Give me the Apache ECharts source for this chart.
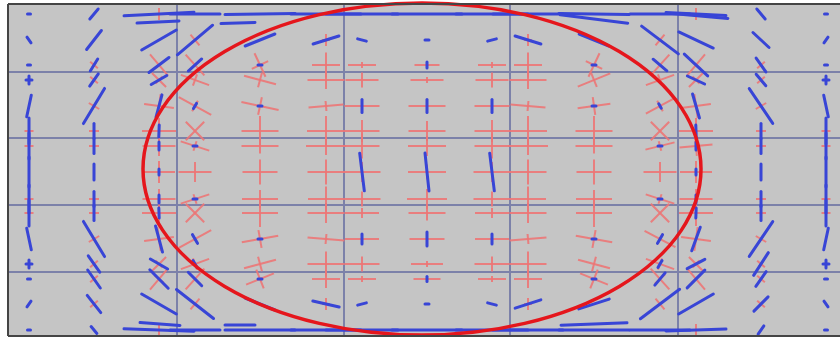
<!DOCTYPE html>
<html><head><meta charset="utf-8">
<script src="https://cdn.jsdelivr.net/npm/echarts@6/dist/echarts.min.js"></script>
<style>html,body{margin:0;padding:0;background:#fff}#chart{width:840px;height:338px}</style>
</head><body><div id="chart"></div>
<script>
// Node positions of the measurement mesh
const colX = [29, 94, 159, 195, 260, 326, 362, 427, 492, 528, 594, 660, 696, 761, 826];
const rowY = [14, 40, 65, 80, 106, 131, 146, 172, 199, 213, 239, 264, 279, 304, 330];
// Reference grid lines
const gridX = [177, 344, 510, 678];
const gridY = [72, 138, 205, 272];
// Ellipse: center and radii
const ellipseCenter = [422, 169];
const ellipseRadii = [279, 166];
// Blue strain segments: [col, row, length, angle]
const blueStrain = [
[0,0,3,0],[0,1,7,-55],[0,2,3,0],[0,3,8,90],[0,3,6,0],[0,4,22,78],[0,5,26,90],[0,6,26,90],[0,7,30,90],[0,8,28,90],[0,9,26,90],[0,10,22,-78],[0,11,8,90],[0,11,6,0],[0,12,3,0],[0,13,7,55],[0,14,3,0],
[1,0,13,50],[1,1,24,52],[1,2,14,58],[1,3,15,55],[1,4,41,59],[1,5,15,90],[1,6,15,90],[1,7,16,90],[1,8,15,90],[1,9,15,90],[1,10,41,-59],[1,11,20,-55],[1,12,22,-55],[1,13,22,-52],[1,14,9,-50],
[2,0,70,3],[2,1,40,30],[2,2,25,37],[2,3,18,30],[2,4,23,75],[2,5,12,88],[2,6,8,90],[2,7,6,90],[2,8,8,90],[2,9,10,-88],[2,10,27,-75],[2,11,20,-30],[2,12,26,-45],[2,13,40,-30],[2,14,70,-2],
[3,0,50,0],[3,1,46,40],[3,2,18,42],[3,4,6,60],[3,6,4,0],[3,8,4,0],[3,10,10,-60],[3,11,8,-60],[3,12,19,-45],[3,13,47,-38],[3,14,50,0],
[4,0,70,1],[4,1,32,22],[4,2,4,0],[4,4,4,0],[4,10,4,0],[4,12,4,0],[4,13,32,-22],[4,14,70,0],
[5,0,70,0],[5,1,27,17],[5,13,27,-13],[5,14,70,0],
[6,0,72,0],[6,1,9,-15],[6,4,13,90],[6,7,38,-83],[6,10,10,90],[6,13,9,15],[6,14,72,0],
[7,0,70,0],[7,1,4,0],[7,2,6,90],[7,4,13,90],[7,7,38,-84],[7,10,14,90],[7,12,5,90],[7,13,4,0],[7,14,70,0],
[8,0,72,0],[8,1,9,15],[8,4,13,90],[8,7,38,-83],[8,10,10,90],[8,13,9,-15],[8,14,72,0],
[9,0,70,0],[9,1,27,-17],[9,13,27,18],[9,14,70,0],
[10,0,70,-1],[10,1,32,-22],[10,2,4,0],[10,4,4,0],[10,10,4,0],[10,12,4,0],[10,13,32,18],[10,14,70,0],
[11,0,60,0],[11,1,46,-37],[11,2,18,-40],[11,4,5,-60],[11,6,4,0],[11,8,4,0],[11,10,10,60],[11,11,8,60],[11,12,16,50],[11,13,49,37],[11,14,60,0],
[12,0,60,-3],[12,1,38,-25],[12,2,32,-43],[12,3,19,-25],[12,4,25,-74],[12,5,12,-88],[12,6,8,90],[12,7,6,90],[12,8,8,90],[12,9,10,88],[12,10,25,70],[12,11,20,28],[12,12,25,45],[12,13,40,30],[12,14,60,2],
[13,0,13,-50],[13,1,22,-43],[13,2,17,-55],[13,3,15,-50],[13,4,42,-56],[13,5,15,90],[13,6,15,90],[13,7,16,90],[13,8,15,90],[13,9,15,90],[13,10,42,56],[13,11,27,57],[13,12,18,55],[13,13,20,45],[13,14,10,55],
[14,0,3,0],[14,1,7,55],[14,2,3,0],[14,3,8,90],[14,3,6,0],[14,4,22,-78],[14,5,26,90],[14,6,26,90],[14,7,30,90],[14,8,28,90],[14,9,26,90],[14,10,22,78],[14,11,8,90],[14,11,6,0],[14,12,3,0],[14,13,7,-55],[14,14,3,0]
];
// Extra boundary band segments: [x, y, length, angle]
const blueBand = [[158,22,42,3],[238,23,34,2],[594,19,68,-7],[700,16,56,-5],[160,324,40,-4],[240,325,30,0],[594,324,66,2]];
// Red strain crosses: [col, row, major, minor, angle]
const redStrain = [
[0,3,8,6,0],[0,5,9,0,0],[0,6,9,0,0],[0,8,9,0,0],[0,9,9,0,0],[0,11,8,6,0],
[1,2,10,6,-40],[1,3,10,6,-40],[1,4,12,8,-30],[1,5,10,0,0],[1,6,10,0,0],[1,8,10,0,0],[1,9,10,0,0],[1,10,12,8,30],[1,11,10,6,40],[1,12,10,6,40],[1,13,10,6,40],
[2,0,0,12,0],[2,2,28,12,-50],[2,3,20,10,-45],[2,4,30,24,-8],[2,5,34,26,0],[2,6,33,20,0],[2,7,32,22,0],[2,8,33,20,0],[2,9,34,26,0],[2,10,30,24,8],[2,11,20,10,45],[2,12,28,12,50],[2,14,0,12,0],
[3,1,14,8,-50],[3,2,28,14,-48],[3,3,30,12,-20],[3,4,37,12,-29],[3,5,26,26,45],[3,6,30,10,-18],[3,7,33,20,0],[3,8,30,10,18],[3,9,26,26,45],[3,10,37,12,29],[3,11,30,12,20],[3,12,28,14,48],[3,13,14,8,50],
[4,2,26,18,-65],[4,3,33,15,-15],[4,4,38,18,-12],[4,5,37,30,0],[4,6,37,15,0],[4,7,35,25,0],[4,8,36,18,0],[4,9,36,28,0],[4,10,37,18,10],[4,11,33,15,15],[4,12,30,20,22],
[5,1,8,12,0],[5,2,28,25,0],[5,3,37,18,0],[5,4,35,10,5],[5,5,38,30,0],[5,6,40,18,0],[5,7,37,25,0],[5,8,36,25,0],[5,9,37,20,0],[5,10,37,10,-5],[5,11,37,25,0],[5,12,28,18,0],[5,13,8,12,0],
[6,2,28,6,0],[6,3,33,15,0],[6,4,35,8,0],[6,5,35,22,0],[6,6,35,25,0],[6,7,37,20,0],[6,8,37,15,0],[6,9,34,10,0],[6,10,34,8,0],[6,11,35,15,0],[6,12,28,6,0],
[7,2,25,6,0],[7,3,33,6,0],[7,4,37,8,0],[7,5,37,20,0],[7,6,38,20,0],[7,7,38,15,0],[7,8,40,20,0],[7,9,37,15,0],[7,10,35,8,0],[7,11,32,6,0],[7,12,27,6,0],
[8,2,28,6,0],[8,3,33,15,0],[8,4,35,8,0],[8,5,35,22,0],[8,6,35,25,0],[8,7,37,20,0],[8,8,37,15,0],[8,9,34,10,0],[8,10,34,8,0],[8,11,35,15,0],[8,12,28,6,0],
[9,1,8,12,0],[9,2,28,25,0],[9,3,37,18,0],[9,4,35,10,-5],[9,5,38,30,0],[9,6,40,18,0],[9,7,37,25,0],[9,8,36,25,0],[9,9,37,20,0],[9,10,37,10,5],[9,11,37,25,0],[9,12,28,18,0],[9,13,8,12,0],
[10,2,26,18,65],[10,3,35,15,22],[10,4,33,18,8],[10,5,37,30,0],[10,6,37,15,0],[10,7,35,25,0],[10,8,36,18,0],[10,9,36,28,0],[10,10,37,18,-10],[10,11,33,15,-15],[10,12,30,20,-22],
[11,1,14,8,50],[11,2,28,14,48],[11,3,30,12,20],[11,4,32,12,28],[11,5,26,26,45],[11,6,30,10,14],[11,7,33,20,0],[11,8,30,10,-18],[11,9,26,26,45],[11,10,35,12,-28],[11,11,30,12,-20],[11,12,28,14,-48],[11,13,14,8,-50],
[12,0,0,12,0],[12,2,28,12,50],[12,3,20,10,45],[12,4,30,24,8],[12,5,34,26,0],[12,6,33,20,5],[12,7,32,22,0],[12,8,33,20,0],[12,9,34,26,0],[12,10,30,24,-8],[12,11,20,10,-45],[12,12,28,12,-50],[12,14,0,12,0],
[13,2,10,6,40],[13,3,10,6,40],[13,4,12,8,30],[13,5,10,0,0],[13,6,10,0,0],[13,8,10,0,0],[13,9,10,0,0],[13,10,12,8,-30],[13,11,10,6,-40],[13,12,10,6,-40],[13,13,10,6,-40],
[14,3,8,6,0],[14,5,9,0,0],[14,6,9,0,0],[14,8,9,0,0],[14,9,9,0,0],[14,11,8,6,0]
];

const X_MIN = 8, X_MAX = 840, Y_MIN = 4, Y_MAX = 336;
// Frame edges (top, left, bottom)
const frameEdges = [[X_MIN, Y_MIN, X_MAX, Y_MIN], [X_MIN, Y_MIN, X_MIN, Y_MAX], [X_MIN, Y_MAX, X_MAX, Y_MAX]];

function segShape(api, x, y, len, ang) {
  const a = ang * Math.PI / 180;
  const dx = len / 2 * Math.cos(a), dy = len / 2 * Math.sin(a);
  const p1 = api.coord([x - dx, y + dy]);
  const p2 = api.coord([x + dx, y - dy]);
  return { x1: p1[0], y1: p1[1], x2: p2[0], y2: p2[1] };
}
function straight(color, width) {
  return (p, api) => {
    const a = api.coord([api.value(0), api.value(1)]);
    const b = api.coord([api.value(2), api.value(3)]);
    return { type: 'line', shape: { x1: a[0], y1: a[1], x2: b[0], y2: b[1] },
             style: { stroke: color, lineWidth: width } };
  };
}

const gridLineData = gridX.map(x => [x, Y_MIN, x, Y_MAX]).concat(gridY.map(y => [X_MIN, y, X_MAX, y]));
const blueData = blueStrain.map(d => [colX[d[0]], rowY[d[1]], d[2], d[3]]).concat(blueBand);
const redData = redStrain.map(d => [colX[d[0]], rowY[d[1]], d[2], d[3], d[4]]);
const ellipseData = [[ellipseCenter[0], ellipseCenter[1], ellipseRadii[0], ellipseRadii[1]]];

const chart = echarts.init(document.getElementById('chart'), null, { renderer: 'canvas' });
chart.setOption({
  animation: false,
  backgroundColor: '#ffffff',
  grid: { left: X_MIN, top: Y_MIN, right: 0, bottom: 338 - Y_MAX, show: true,
          backgroundColor: '#c5c5c5', borderWidth: 0 },
  xAxis: { type: 'value', min: X_MIN, max: X_MAX, show: false },
  yAxis: { type: 'value', min: Y_MIN, max: Y_MAX, inverse: true, show: false },
  series: [
    { type: 'custom', data: gridLineData, encode: { x: [0, 2], y: [1, 3] }, renderItem: straight('#7c81a9', 2) },
    { type: 'custom', data: redData, encode: { x: 0, y: 1 },
      renderItem: (p, api) => {
        const x = api.value(0), y = api.value(1), m = api.value(2), n = api.value(3), a = api.value(4);
        const st = { stroke: '#ec7676', lineWidth: 2, opacity: 0.9 };
        const ch = [];
        if (m > 0) ch.push({ type: 'line', shape: segShape(api, x, y, m, a), style: st });
        if (n > 0) ch.push({ type: 'line', shape: segShape(api, x, y, n, a + 90), style: st });
        return { type: 'group', children: ch };
      } },
    { type: 'custom', data: blueData, encode: { x: 0, y: 1 },
      renderItem: (p, api) => ({
        type: 'line',
        shape: segShape(api, api.value(0), api.value(1), api.value(2), api.value(3)),
        style: { stroke: '#3845d6', lineWidth: 3, lineCap: 'round' }
      }) },
    { type: 'custom', data: ellipseData, encode: { x: 0, y: 1 },
      renderItem: (p, api) => {
        const c = api.coord([api.value(0), api.value(1)]);
        const e = api.coord([api.value(0) + api.value(2), api.value(1) + api.value(3)]);
        const rx = Math.abs(e[0] - c[0]), ry = Math.abs(e[1] - c[1]);
        const d = 'M' + (c[0] - rx) + ',' + c[1] + ' A' + rx + ',' + ry + ' 0 1,0 ' + (c[0] + rx) + ',' + c[1] +
                  ' A' + rx + ',' + ry + ' 0 1,0 ' + (c[0] - rx) + ',' + c[1] + ' Z';
        return { type: 'path', shape: { pathData: d }, style: { fill: 'none', stroke: '#e5161c', lineWidth: 3.5 } };
      } },
    { type: 'custom', data: frameEdges, encode: { x: [0, 2], y: [1, 3] }, renderItem: straight('#454545', 2) }
  ]
});
</script></body></html>
